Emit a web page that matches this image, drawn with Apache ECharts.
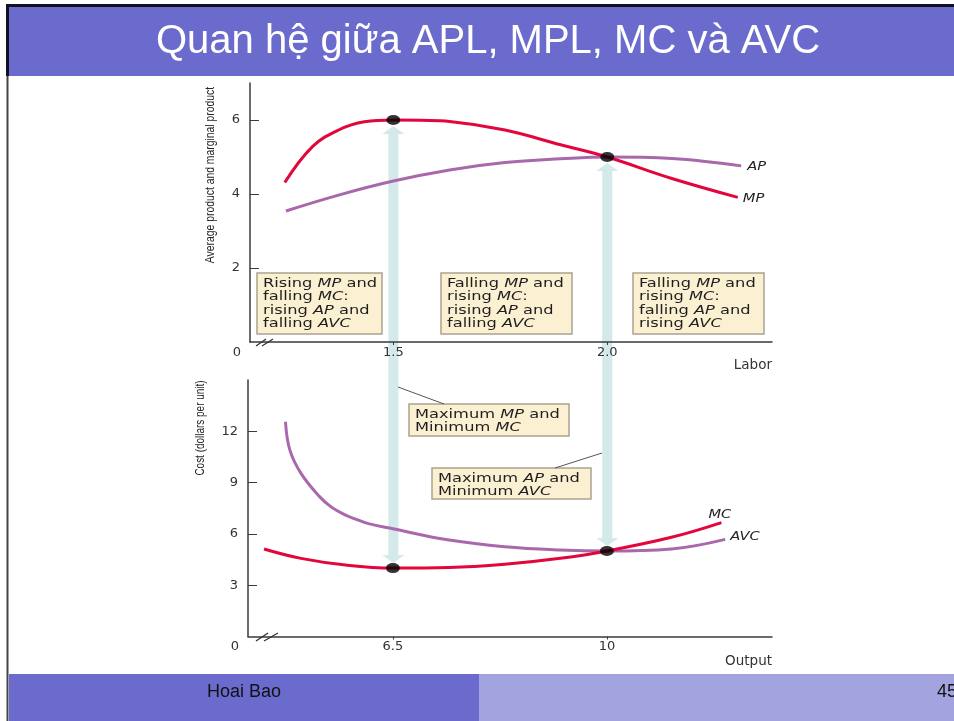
<!DOCTYPE html>
<html>
<head>
<meta charset="utf-8">
<script src="https://cdn.jsdelivr.net/npm/echarts@6/dist/echarts.min.js"></script>
<style>
  html, body { margin: 0; padding: 0; background: #ffffff; }
  #chart { width: 954px; height: 721px; }
</style>
</head>
<body>
<div id="chart"></div>
<script>
// ---- Product curves (labor on the horizontal axis) ----
const mpLabor  = [1.2463, 1.311, 1.372, 1.4325, 1.5, 1.5631, 1.6315, 1.761, 1.891, 2.0, 2.151, 2.305];
const mpValues = [4.31, 5.28, 5.73, 5.95, 6.0, 5.99, 5.96, 5.73, 5.33, 5.0, 4.42, 3.91];
const apLabor  = [1.249, 1.372, 1.5, 1.6315, 1.761, 1.891, 2.0, 2.151, 2.313];
const apValues = [3.54, 3.97, 4.35, 4.65, 4.85, 4.95, 5.0, 4.96, 4.76];

// ---- Cost curves (output on the horizontal axis) ----
const mcOutput  = [4.392, 4.997, 5.725, 6.5, 7.42, 8.329, 9.238, 10, 11.055, 11.873];
const mcValues  = [5.12, 4.57, 4.18, 4.0, 4.03, 4.22, 4.57, 5.0, 5.8, 6.66];
const avcOutput = [4.743, 4.815, 4.997, 5.3, 5.5, 5.725, 5.9, 6.1, 6.5, 7.42, 8.329, 9.238, 10, 11.055, 11.934];
const avcValues = [12.56, 10.9, 9.54, 8.18, 7.55, 7.1, 6.85, 6.6, 6.3, 5.64, 5.25, 5.06, 5.0, 5.12, 5.68];

// ---- Key points: maximum MP / minimum MC, maximum AP / minimum AVC ----
const laborKeys     = [1.5, 2.0];
const productAtKeys = [6, 5];
const outputKeys    = [6.5, 10];
const costAtKeys    = [4, 5];

// ---- Tick labels ----
const laborTicks   = [1.5, 2.0];
const productTicks = [2, 4, 6];
const outputTicks  = [6.5, 10];
const costTicks    = [3, 6, 9, 12];

const laborMin = 1.165, laborMax = 2.385;
const outputMin = 4.13, outputMax = 12.7;

const RED = '#e2063d';
const PURPLE = '#a968ab';
const AXIS = '#3a3a3a';
const TICK_FONT = 'DejaVu Sans';
const BOX_FONT = 'DejaVu Sans';

const pairs = (xs, ys) => xs.map((x, i) => [x, ys[i]]);

const chart = echarts.init(document.getElementById('chart'), null, { renderer: 'canvas' });

function xAxisFor(gridIndex, min, max, ticks, fmt, name, namePad) {
  return {
    type: 'value', gridIndex, min, max, z: 3,
    axisLine: { show: true, lineStyle: { color: AXIS, width: 1.5 } },
    axisTick: { show: true, customValues: ticks, length: 3, lineStyle: { color: AXIS } },
    splitLine: { show: false },
    axisLabel: {
      customValues: [min].concat(ticks), margin: 4,
      fontFamily: TICK_FONT, fontSize: 13, color: '#333',
      formatter: v => (Math.abs(v - min) < 1e-9 ? '{z|0}' : fmt(v)),
      rich: { z: { padding: [0, 26, 0, 0], fontFamily: TICK_FONT, fontSize: 13, color: '#333' } }
    },
    name, nameLocation: 'end', nameGap: 0,
    nameTextStyle: { fontFamily: TICK_FONT, fontSize: 13.5, color: '#333', align: 'right', verticalAlign: 'top', padding: [namePad, 0, 0, 0] }
  };
}

function yAxisFor(gridIndex, max, ticks) {
  return {
    type: 'value', gridIndex, min: 0, max, z: 3,
    axisLine: { show: true, lineStyle: { color: AXIS, width: 1.5 } },
    axisTick: { show: true, inside: true, customValues: ticks, length: 9, lineStyle: { color: AXIS } },
    splitLine: { show: false },
    axisLabel: { customValues: ticks, margin: 10, fontFamily: TICK_FONT, fontSize: 13, color: '#333' }
  };
}

const curve = (name, gi, xs, ys, color, z) => ({
  name, type: 'line', xAxisIndex: gi, yAxisIndex: gi, data: pairs(xs, ys),
  smooth: 0.4, showSymbol: false, lineStyle: { color, width: 3 }, z
});

const keyDots = (name, gi, xs, ys) => ({
  name, type: 'scatter', xAxisIndex: gi, yAxisIndex: gi, data: pairs(xs, ys),
  symbol: 'circle', symbolSize: [14, 10], itemStyle: { color: '#000' }, z: 5
});

chart.setOption({
  animation: false,
  backgroundColor: '#ffffff',
  grid: [
    { left: 250, top: 83, width: 522, height: 259 },
    { left: 248, top: 380, width: 524, height: 256.5 }
  ],
  xAxis: [
    xAxisFor(0, laborMin, laborMax, laborTicks, v => v.toFixed(1), 'Labor', 16),
    xAxisFor(1, outputMin, outputMax, outputTicks, v => String(v), 'Output', 18)
  ],
  yAxis: [
    yAxisFor(0, 7, productTicks),
    yAxisFor(1, 15, costTicks)
  ],
  series: [
    curve('MP', 0, mpLabor, mpValues, RED, 3),
    curve('AP', 0, apLabor, apValues, PURPLE, 2),
    keyDots('keysTop', 0, laborKeys, productAtKeys),
    curve('MC', 1, mcOutput, mcValues, RED, 3),
    curve('AVC', 1, avcOutput, avcValues, PURPLE, 2),
    keyDots('keysBottom', 1, outputKeys, costAtKeys)
  ]
});

const top0 = { xAxisIndex: 0, yAxisIndex: 0 };
const bot1 = { xAxisIndex: 1, yAxisIndex: 1 };
const lastPx = (finder, xs, ys) => chart.convertToPixel(finder, [xs[xs.length - 1], ys[ys.length - 1]]);

// Double-headed connector arrows running from each product key point down to its cost key point
function arrowShape(top, bottom) {
  const x = top[0];
  const tipT = top[1] + 6, baseT = tipT + 8;
  const tipB = bottom[1] - 5, baseB = tipB - 8;
  return [[x, tipT], [x + 11, baseT], [x + 5, baseT], [x + 5, baseB], [x + 11, baseB],
          [x, tipB], [x - 11, baseB], [x - 5, baseB], [x - 5, baseT], [x - 11, baseT]];
}

const arrows = laborKeys.map((lx, i) => {
  const top = chart.convertToPixel(top0, [lx, productAtKeys[i]]);
  const bottom = chart.convertToPixel(bot1, [outputKeys[i], costAtKeys[i]]);
  return { type: 'polygon', z: 1, shape: { points: arrowShape(top, bottom) }, style: { fill: '#d4eaea' } };
});

// Italic curve names placed at the end of each curve
function curveName(text, p, dx, dy) {
  return { type: 'text', z: 6, x: p[0] + dx, y: p[1] + dy, scaleX: 1.22,
    style: { text, font: 'italic 12px "DejaVu Sans"', fill: '#222', align: 'left', verticalAlign: 'middle' } };
}
const curveNames = [
  curveName('AP', lastPx(top0, apLabor, apValues), 6, 1),
  curveName('MP', lastPx(top0, mpLabor, mpValues), 5, 2),
  curveName('MC', lastPx(bot1, mcOutput, mcValues), -13, -8),
  curveName('AVC', lastPx(bot1, avcOutput, avcValues), 5, -2)
];

const richStyles = {
  n: { fontFamily: BOX_FONT, fontSize: 12.5, lineHeight: 13.4, fill: '#1e1e1e' },
  i: { fontFamily: BOX_FONT, fontSize: 12.5, lineHeight: 13.4, fill: '#1e1e1e', fontStyle: 'italic' }
};

function noteBox(x, y, w, h, text) {
  return {
    type: 'group', x, y, z: 6,
    children: [
      { type: 'rect', shape: { x: 0, y: 0, width: w, height: h },
        style: { fill: '#fcf0d3', stroke: '#aaa390', lineWidth: 1.5 } },
      { type: 'text', x: 6, y: 4, scaleX: 1.3,
        style: { text, rich: richStyles, fill: '#1e1e1e', font: '12.5px "DejaVu Sans"' } }
    ]
  };
}

const boxes = [
  noteBox(257, 273, 125, 61, '{n|Rising }{i|MP}{n| and}\n{n|falling }{i|MC}{n|:}\n{n|rising }{i|AP}{n| and}\n{n|falling }{i|AVC}'),
  noteBox(441, 273, 131, 61, '{n|Falling }{i|MP}{n| and}\n{n|rising }{i|MC}{n|:}\n{n|rising }{i|AP}{n| and}\n{n|falling }{i|AVC}'),
  noteBox(633, 273, 131, 61, '{n|Falling }{i|MP}{n| and}\n{n|rising }{i|MC}{n|:}\n{n|falling }{i|AP}{n| and}\n{n|rising }{i|AVC}'),
  noteBox(409, 404, 160, 32, '{n|Maximum }{i|MP}{n| and}\n{n|Minimum }{i|MC}'),
  noteBox(432, 468, 159, 31, '{n|Maximum }{i|AP}{n| and}\n{n|Minimum }{i|AVC}')
];

const leaders = [
  { type: 'line', z: 6, shape: { x1: 398, y1: 387, x2: 444, y2: 404 }, style: { stroke: '#555', lineWidth: 1 } },
  { type: 'line', z: 6, shape: { x1: 602, y1: 453, x2: 555, y2: 468 }, style: { stroke: '#555', lineWidth: 1 } }
];

// Axis-break marks near each origin
const breaks = [
  { type: 'line', z: 6, shape: { x1: 256, y1: 346, x2: 266, y2: 339 }, style: { stroke: '#333', lineWidth: 1.3 } },
  { type: 'line', z: 6, shape: { x1: 262, y1: 346, x2: 273, y2: 339 }, style: { stroke: '#333', lineWidth: 1.3 } },
  { type: 'line', z: 6, shape: { x1: 256, y1: 641, x2: 268, y2: 633 }, style: { stroke: '#333', lineWidth: 1.3 } },
  { type: 'line', z: 6, shape: { x1: 264, y1: 641, x2: 278, y2: 633 }, style: { stroke: '#333', lineWidth: 1.3 } }
];

// Rotated axis titles, horizontally condensed
const yNames = [
  { type: 'text', z: 6, x: 211, y: 175, rotation: Math.PI / 2, scaleX: 0.83,
    style: { text: 'Average product and marginal product', font: '12.5px "Liberation Sans", Arial, sans-serif',
      fill: '#222', align: 'center', verticalAlign: 'middle' } },
  { type: 'text', z: 6, x: 201, y: 428, rotation: Math.PI / 2, scaleX: 0.83,
    style: { text: 'Cost (dollars per unit)', font: '12px "Liberation Sans", Arial, sans-serif',
      fill: '#222', align: 'center', verticalAlign: 'middle' } }
];

// Slide frame: title band, footer bands and border
const frame = [
  { type: 'rect', z: 0, shape: { x: 6.5, y: 75, width: 2, height: 646 }, style: { fill: '#444' } },
  { type: 'rect', z: 0, shape: { x: 6, y: 4, width: 948, height: 3 }, style: { fill: '#111122' } },
  { type: 'rect', z: 0, shape: { x: 6, y: 4, width: 3, height: 72 }, style: { fill: '#111122' } },
  { type: 'rect', z: 0, shape: { x: 9, y: 7, width: 945, height: 69 }, style: { fill: '#6b6bcd' } },
  { type: 'text', z: 1, x: 488, y: 42,
    style: { text: 'Quan hệ giữa APL, MPL, MC và AVC', font: '40px "Liberation Sans", Arial, sans-serif',
      fill: '#ffffff', align: 'center', verticalAlign: 'middle' } },
  { type: 'rect', z: 0, shape: { x: 9, y: 674, width: 470, height: 47 }, style: { fill: '#6b6bcd' } },
  { type: 'rect', z: 0, shape: { x: 479, y: 674, width: 475, height: 47 }, style: { fill: '#a3a3df' } },
  { type: 'text', z: 1, x: 244, y: 692,
    style: { text: 'Hoai Bao', font: '18px "Liberation Sans", Arial, sans-serif', fill: '#111', align: 'center', verticalAlign: 'middle' } },
  { type: 'text', z: 1, x: 937, y: 692,
    style: { text: '45', font: '18px "Liberation Sans", Arial, sans-serif', fill: '#111', align: 'left', verticalAlign: 'middle' } }
];

chart.setOption({ graphic: [].concat(frame, arrows, boxes, leaders, breaks, yNames, curveNames) });
</script>
</body>
</html>
